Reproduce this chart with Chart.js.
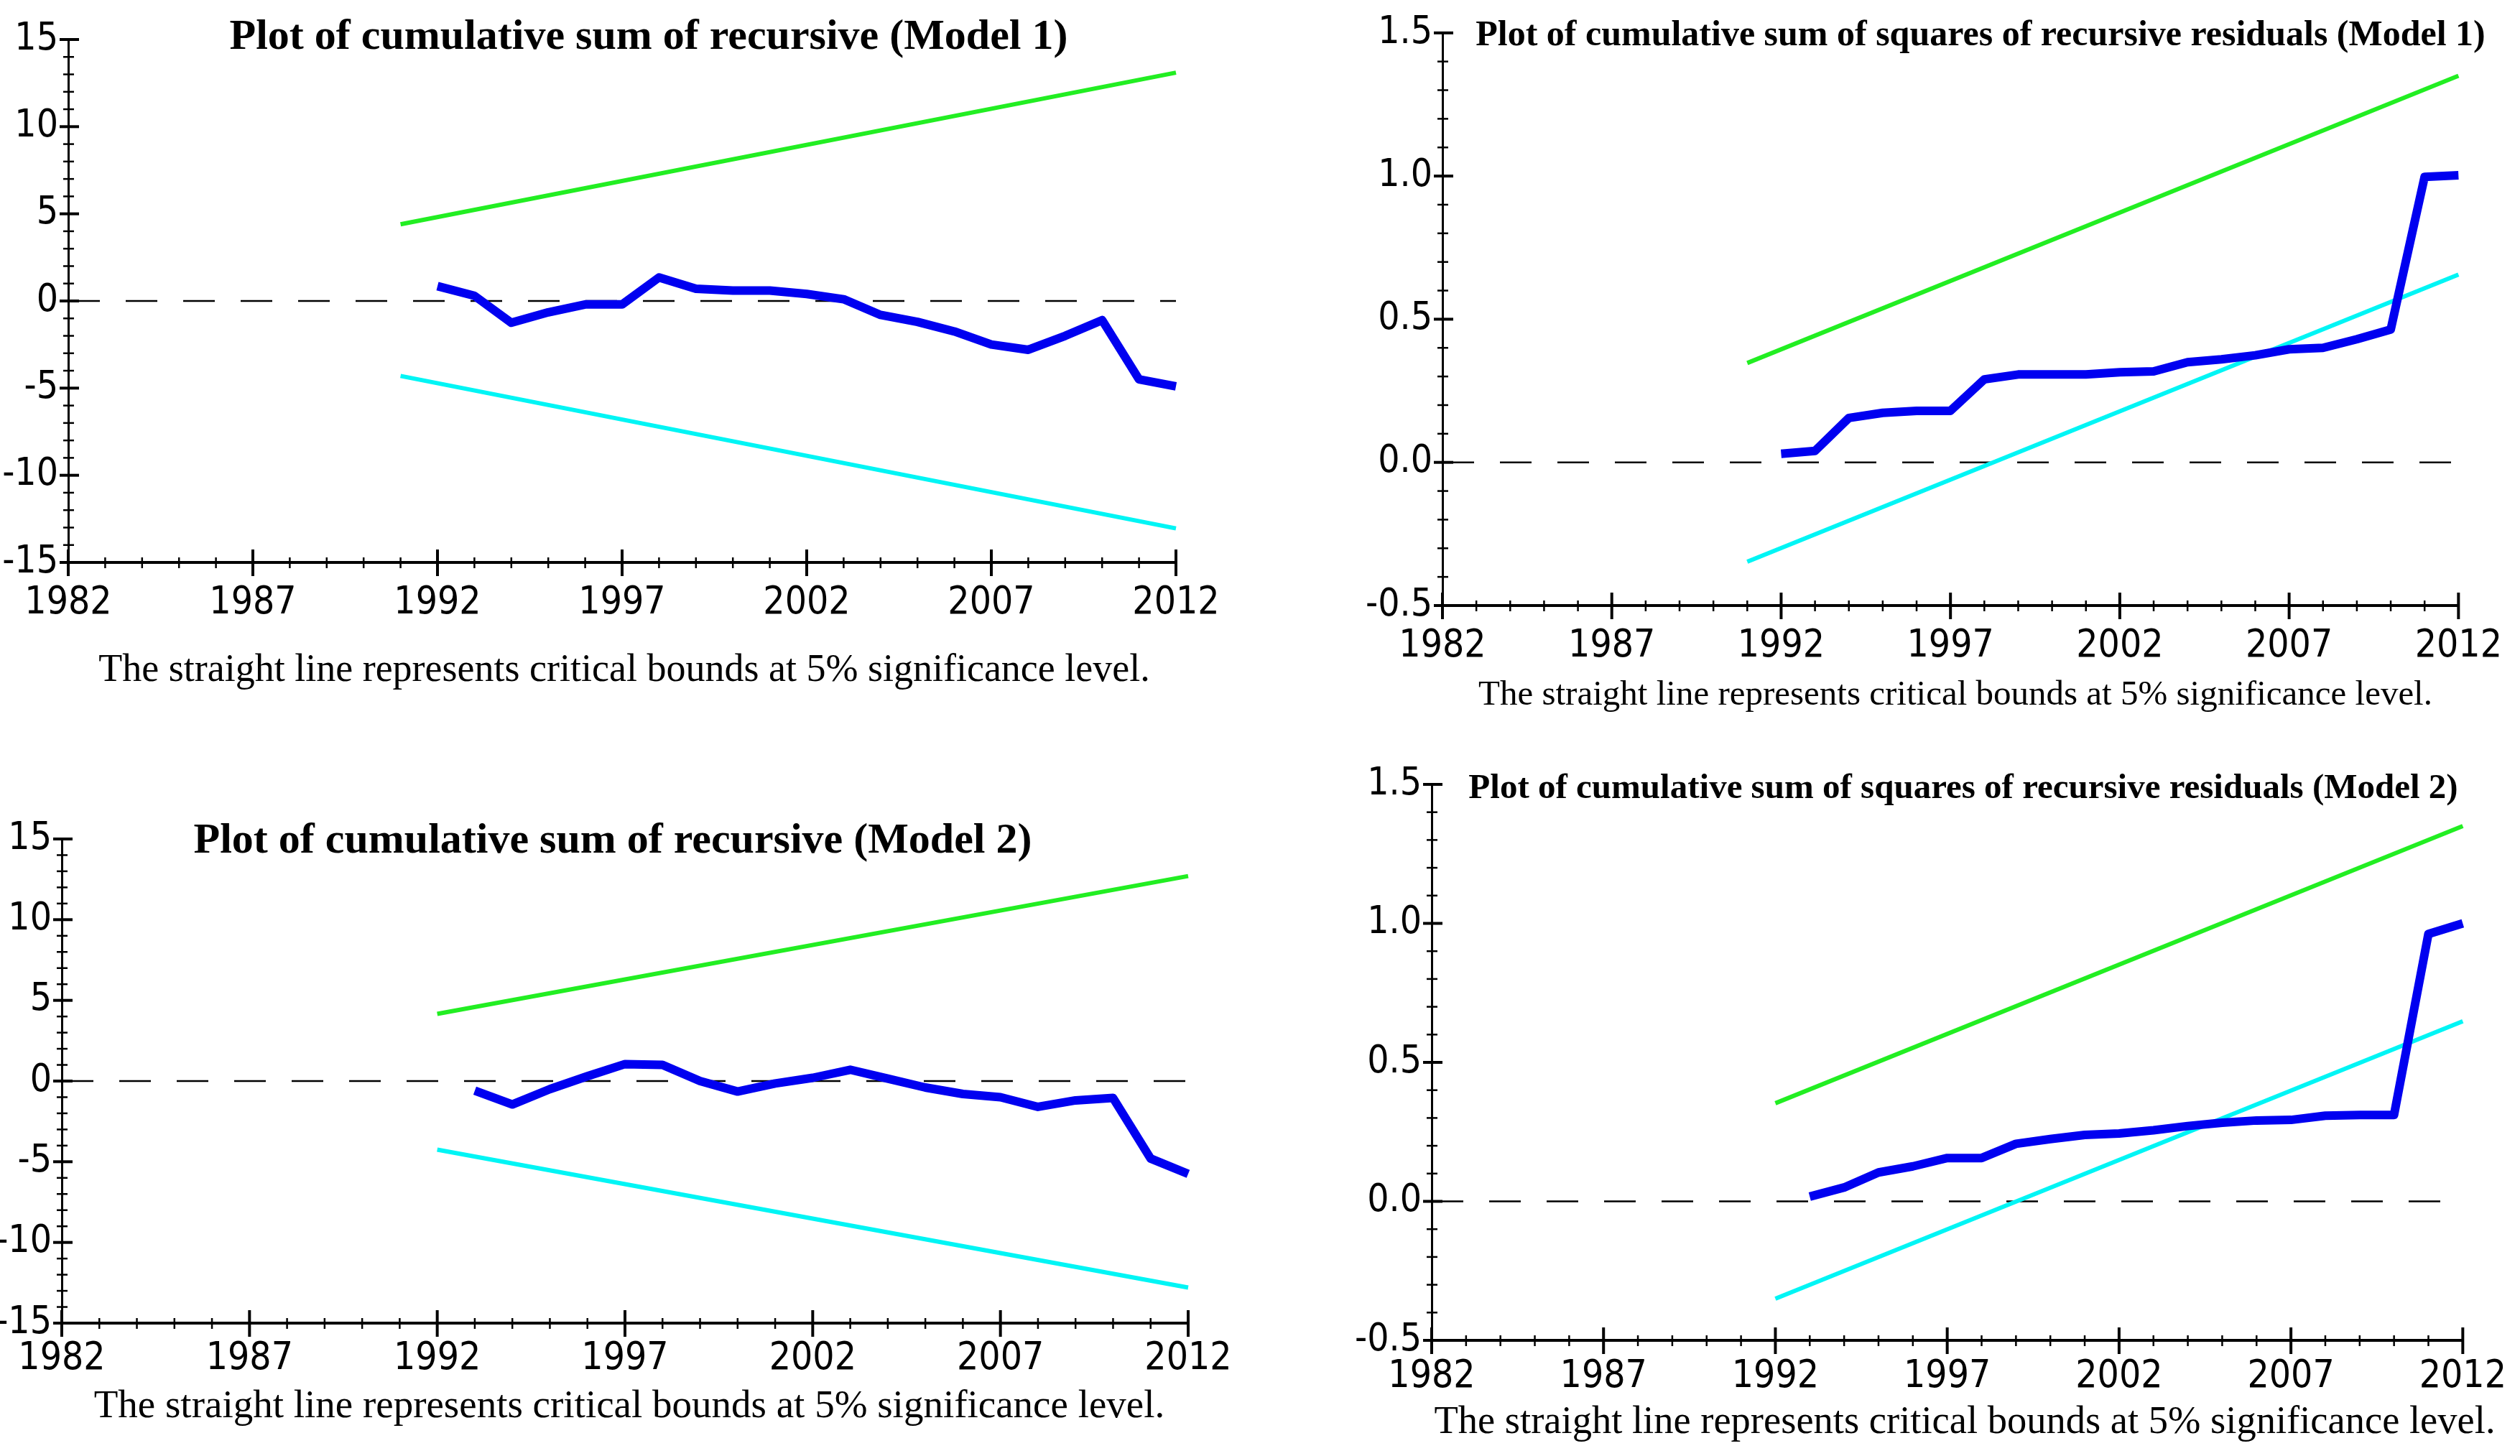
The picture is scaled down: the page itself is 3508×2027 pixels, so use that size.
<!DOCTYPE html>
<html><head><meta charset="utf-8">
<script src="https://cdn.jsdelivr.net/npm/chart.js@4.4.1/dist/chart.umd.min.js"></script>
<style>
html,body{margin:0;padding:0;background:#fff;width:3508px;height:2027px;overflow:hidden}
canvas{position:absolute}
</style></head><body>
<canvas id="c1" width="1754" height="1013" style="left:0px;top:0px"></canvas>
<canvas id="c2" width="1754" height="1013" style="left:1754px;top:0px"></canvas>
<canvas id="c3" width="1754" height="1014" style="left:0px;top:1013px"></canvas>
<canvas id="c4" width="1754" height="1014" style="left:1754px;top:1013px"></canvas>
<script>
// ---------- data ----------
const yearsM1 = [1992,1993,1994,1995,1996,1997,1998,1999,2000,2001,2002,2003,2004,2005,2006,2007,2008,2009,2010,2011,2012];
const cusumM1 = [0.85,0.3,-1.25,-0.65,-0.2,-0.2,1.35,0.7,0.6,0.6,0.4,0.1,-0.8,-1.2,-1.75,-2.5,-2.8,-2.0,-1.1,-4.5,-4.9];
const cusumsqM1 = [0.03,0.04,0.155,0.173,0.18,0.18,0.29,0.307,0.307,0.307,0.315,0.318,0.35,0.36,0.374,0.395,0.40,0.43,0.464,0.997,1.003];

const yearsM2 = [1993,1994,1995,1996,1997,1998,1999,2000,2001,2002,2003,2004,2005,2006,2007,2008,2009,2010,2011,2012];
const cusumM2 = [-0.6,-1.45,-0.5,0.3,1.05,1.0,0.0,-0.65,-0.15,0.2,0.7,0.15,-0.4,-0.8,-1.0,-1.6,-1.2,-1.05,-4.8,-5.75];
const cusumsqM2 = [0.017,0.05,0.104,0.126,0.156,0.156,0.207,0.224,0.239,0.244,0.256,0.271,0.283,0.291,0.293,0.308,0.311,0.311,0.962,1.0];

// critical bounds (5%)
const boundYearsCusumM1 = [1991, 2012];
const upperCusumM1 = [4.4, 13.1];
const lowerCusumM1 = [-4.3, -13.05];
const boundYearsCusumsqM1 = [1991, 2012];
const upperCusumsqM1 = [0.347, 1.35];
const lowerCusumsqM1 = [-0.347, 0.656];
const boundYearsCusumM2 = [1992, 2012];
const upperCusumM2 = [4.16, 12.7];
const lowerCusumM2 = [-4.25, -12.8];
const boundYearsCusumsqM2 = [1992, 2012];
const upperCusumsqM2 = [0.353, 1.35];
const lowerCusumsqM2 = [-0.35, 0.648];

// zero reference line
const zeroYears = [1982, 2012];
const zeroValues = [0, 0];

// ticks
const xTickValues = [1982,1987,1992,1997,2002,2007,2012];
const xTickLabels = ['1982','1987','1992','1997','2002','2007','2012'];
const cusumTickValues = [-15,-10,-5,0,5,10,15];
const cusumTickLabels = ['-15','-10','-5','0','5','10','15'];
const cusumsqTickValues = [-0.5,0,0.5,1.0,1.5];
const cusumsqTickLabels = ['-0.5','0.0','0.5','1.0','1.5'];

// texts
const titleCusumM1 = 'Plot of cumulative sum of recursive (Model 1)';
const titleCusumsqM1 = 'Plot of cumulative sum of squares of recursive residuals (Model 1)';
const titleCusumM2 = 'Plot of cumulative sum of recursive (Model 2)';
const titleCusumsqM2 = 'Plot of cumulative sum of squares of recursive residuals (Model 2)';
const captionText = 'The straight line represents critical bounds at 5% significance level.';

// ---------- helpers ----------
const pts = (xs, ys) => xs.map((x, i) => ({x: x, y: ys[i]}));
const xMinor = []; for (let y = 1982; y <= 2012; y++) xMinor.push(y);
const cusumMinor = []; for (let v = -15; v <= 15; v++) cusumMinor.push(v);
const cusumsqMinor = []; for (let v = -5; v <= 15; v++) cusumsqMinor.push(v / 10);

const TICK_FONT = "'Liberation Sans Narrow', 'Arial Narrow', 'DejaVu Sans Condensed', sans-serif";
const SERIF = "'Liberation Serif', 'Times New Roman', serif";

const panelText = {
  id: 'panelText',
  afterDraw(chart, args, o) {
    const ctx = chart.ctx;
    ctx.save();
    ctx.fillStyle = '#000';
    ctx.textAlign = 'center';
    ctx.textBaseline = 'alphabetic';
    ctx.font = 'bold ' + o.titleSize + 'px ' + SERIF;
    ctx.fillText(o.title, o.titleX, o.titleY);
    ctx.font = o.capSize + 'px ' + SERIF;
    ctx.fillText(o.caption, o.capX, o.capY);
    ctx.restore();
  }
};

const crossTicks = {
  id: 'crossTicks',
  afterDraw(chart, args, o) {
    const ctx = chart.ctx, xs = chart.scales.x, ys = chart.scales.y, ca = chart.chartArea;
    ctx.save();
    ctx.strokeStyle = '#000';
    ctx.lineCap = 'butt';
    o.xMinor.forEach(v => {
      const px = xs.getPixelForValue(v);
      const major = o.xMajor.includes(v);
      ctx.lineWidth = major ? 4 : 2.5;
      ctx.beginPath();
      ctx.moveTo(px, ca.bottom - (major ? 18 : 7));
      ctx.lineTo(px, ca.bottom + (major ? 19 : 8));
      ctx.stroke();
    });
    o.yMinor.forEach(v => {
      const py = ys.getPixelForValue(v);
      const major = o.yMajor.some(m => Math.abs(m - v) < 1e-9);
      ctx.lineWidth = major ? 4 : 2.5;
      ctx.beginPath();
      ctx.moveTo(ca.left - (major ? 12 : 7), py);
      ctx.lineTo(ca.left + (major ? 15 : 8), py);
      ctx.stroke();
    });
    ctx.restore();
  }
};

function makePanel(id, p) {
  const datasets = [
    {data: pts(p.years, p.values), borderColor: '#0000F0', borderWidth: 12, borderJoinStyle: 'round', borderCapStyle: 'butt'},
    {data: pts(p.boundYears, p.upper), borderColor: '#22EE22', borderWidth: 6},
    {data: pts(p.boundYears, p.lower), borderColor: '#00F5F5', borderWidth: 6},
    {data: pts(zeroYears, zeroValues), borderColor: '#000000', borderWidth: 2.5, borderDash: [44, 36]}
  ].map(d => Object.assign({pointRadius: 0, tension: 0, fill: false, clip: false}, d));

  new Chart(document.getElementById(id), {
    type: 'line',
    data: {datasets: datasets},
    plugins: [panelText, crossTicks],
    options: {
      responsive: false,
      animation: false,
      devicePixelRatio: 1,
      events: [],
      layout: {padding: {left: 0, right: p.padR, top: p.padT, bottom: p.padB}},
      plugins: {
        legend: {display: false},
        tooltip: {enabled: false},
        title: {display: false},
        panelText: {title: p.title, titleSize: p.titleSize, titleX: p.titleX, titleY: p.titleY,
                    caption: captionText, capSize: p.capSize, capX: p.capX, capY: p.capY},
        crossTicks: {xMinor: xMinor, xMajor: xTickValues, yMinor: p.yMinor, yMajor: p.yTicks}
      },
      scales: {
        x: {
          type: 'linear', min: 1982, max: 2012,
          afterBuildTicks: s => { s.ticks = xTickValues.map(v => ({value: v})); },
          afterFit: s => { s.height = 120; },
          ticks: {callback: (v, i) => xTickLabels[i], color: '#000', font: {family: TICK_FONT, size: 53},
                  padding: p.xPad, maxRotation: 0, autoSkip: false},
          grid: {display: false, drawTicks: false},
          border: {display: true, color: '#000', width: 4}
        },
        y: {
          type: 'linear', min: p.yMin, max: p.yMax,
          afterBuildTicks: s => { s.ticks = p.yTicks.map(v => ({value: v})); },
          afterFit: s => { s.width = p.yWidth; },
          ticks: {callback: (v, i) => p.yLabels[i], color: '#000', font: {family: TICK_FONT, size: 53},
                  padding: 14, autoSkip: false},
          grid: {display: false, drawTicks: false},
          border: {display: true, color: '#000', width: 3}
        }
      }
    }
  });
}

makePanel('c1', {
  years: yearsM1, values: cusumM1, boundYears: boundYearsCusumM1, upper: upperCusumM1, lower: lowerCusumM1,
  yMin: -15, yMax: 15, yTicks: cusumTickValues, yLabels: cusumTickLabels, yMinor: cusumMinor,
  yWidth: 95, padR: 117, padT: 55, padB: 110, xPad: 25,
  title: titleCusumM1, titleSize: 60, titleX: 903, titleY: 68,
  capSize: 54, capX: 869, capY: 948
});
makePanel('c2', {
  years: yearsM1, values: cusumsqM1, boundYears: boundYearsCusumsqM1, upper: upperCusumsqM1, lower: lowerCusumsqM1,
  yMin: -0.5, yMax: 1.5, yTicks: cusumsqTickValues, yLabels: cusumsqTickLabels, yMinor: cusumsqMinor,
  yWidth: 254, padR: 56, padT: 40, padB: 50, xPad: 25,
  title: titleCusumsqM1, titleSize: 50, titleX: 1003, titleY: 63,
  capSize: 49, capX: 968, capY: 981
});
makePanel('c3', {
  years: yearsM2, values: cusumM2, boundYears: boundYearsCusumM2, upper: upperCusumM2, lower: lowerCusumM2,
  yMin: -15, yMax: 15, yTicks: cusumTickValues, yLabels: cusumTickLabels, yMinor: cusumMinor,
  yWidth: 86, padR: 100, padT: 155, padB: 65, xPad: 18,
  title: titleCusumM2, titleSize: 60, titleX: 853, titleY: 174,
  capSize: 55, capX: 876, capY: 960
});
makePanel('c4', {
  years: yearsM2, values: cusumsqM2, boundYears: boundYearsCusumsqM2, upper: upperCusumsqM2, lower: lowerCusumsqM2,
  yMin: -0.5, yMax: 1.5, yTicks: cusumsqTickValues, yLabels: cusumsqTickLabels, yMinor: cusumsqMinor,
  yWidth: 239, padR: 66, padT: 79, padB: 41, xPad: 19,
  title: titleCusumsqM2, titleSize: 49, titleX: 979, titleY: 98,
  capSize: 54.5, capX: 981, capY: 982
});
</script>
</body></html>
